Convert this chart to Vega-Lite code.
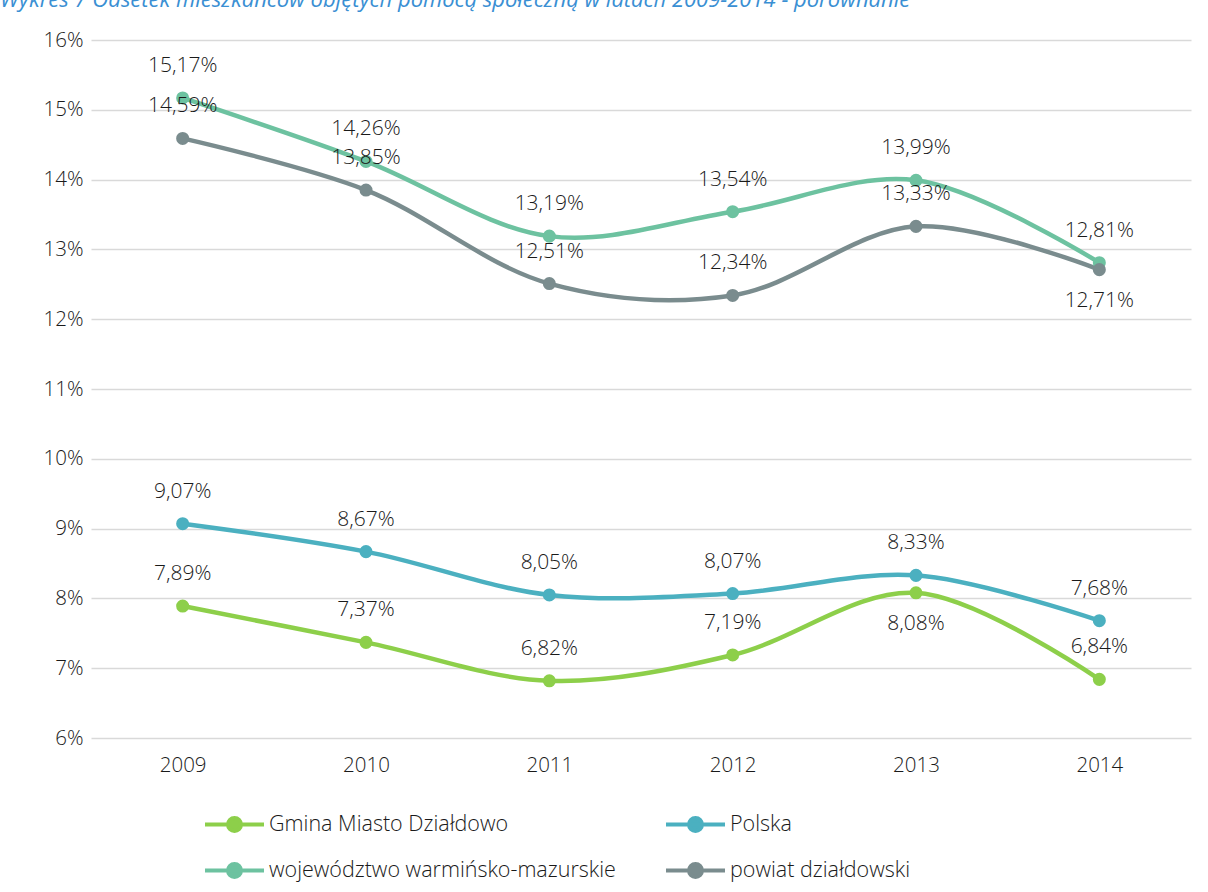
{
  "$schema": "https://vega.github.io/schema/vega-lite/v6.json",
  "width": 1100,
  "height": 698,
  "autosize": {"type": "none"},
  "padding": {"left": 91, "top": 40, "right": 17, "bottom": 154},
  "background": "white",
  "config": {
    "locale": {"number": {"decimal": ",", "thousands": " ", "grouping": [3], "currency": ["", " zł"]}},
    "view": {"stroke": null},
    "font": "Open Sans"
  },
  "title": {
    "text": "Wykres 7 Odsetek mieszkańców objętych pomocą społeczną w latach 2009-2014 - porównanie",
    "anchor": "start",
    "frame": "group",
    "baseline": "alphabetic",
    "offset": 1,
    "dx": -91,
    "fontSize": 22,
    "fontStyle": "italic",
    "fontWeight": "normal",
    "color": "#3A8FD3"
  },
  "data": {
    "values": [
      {"series": "Gmina Miasto Działdowo", "year": "2009", "value": 0.0789},
      {"series": "Gmina Miasto Działdowo", "year": "2010", "value": 0.0737},
      {"series": "Gmina Miasto Działdowo", "year": "2011", "value": 0.0682},
      {"series": "Gmina Miasto Działdowo", "year": "2012", "value": 0.0719},
      {"series": "Gmina Miasto Działdowo", "year": "2013", "value": 0.0808},
      {"series": "Gmina Miasto Działdowo", "year": "2014", "value": 0.0684},
      {"series": "Polska", "year": "2009", "value": 0.0907},
      {"series": "Polska", "year": "2010", "value": 0.0867},
      {"series": "Polska", "year": "2011", "value": 0.0805},
      {"series": "Polska", "year": "2012", "value": 0.0807},
      {"series": "Polska", "year": "2013", "value": 0.0833},
      {"series": "Polska", "year": "2014", "value": 0.0768},
      {"series": "województwo warmińsko-mazurskie", "year": "2009", "value": 0.1517},
      {"series": "województwo warmińsko-mazurskie", "year": "2010", "value": 0.1426},
      {"series": "województwo warmińsko-mazurskie", "year": "2011", "value": 0.1319},
      {"series": "województwo warmińsko-mazurskie", "year": "2012", "value": 0.1354},
      {"series": "województwo warmińsko-mazurskie", "year": "2013", "value": 0.1399},
      {"series": "województwo warmińsko-mazurskie", "year": "2014", "value": 0.1281},
      {"series": "powiat działdowski", "year": "2009", "value": 0.1459},
      {"series": "powiat działdowski", "year": "2010", "value": 0.1385},
      {"series": "powiat działdowski", "year": "2011", "value": 0.1251},
      {"series": "powiat działdowski", "year": "2012", "value": 0.1234},
      {"series": "powiat działdowski", "year": "2013", "value": 0.1333},
      {"series": "powiat działdowski", "year": "2014", "value": 0.1271}
    ]
  },
  "encoding": {
    "x": {
      "field": "year", "type": "ordinal",
      "scale": {"type": "point", "padding": 0.5},
      "axis": {"title": null, "labelAngle": 0, "labelFontSize": 20.5, "labelFontWeight": 300, "labelColor": "#1A1A1A", "labelPadding": 17, "ticks": false, "domain": false, "grid": false, "labelFont": "Open Sans"}
    },
    "y": {
      "field": "value", "type": "quantitative",
      "scale": {"domain": [0.06, 0.16], "nice": false, "zero": false},
      "axis": {"title": null, "format": ".0%", "values": [0.06, 0.07, 0.08, 0.09, 0.10, 0.11, 0.12, 0.13, 0.14, 0.15, 0.16], "labelFontSize": 20.5, "labelFontWeight": 300, "labelColor": "#1A1A1A", "labelPadding": 8, "ticks": false, "domain": false, "grid": true, "gridColor": "#D9D9D9", "gridWidth": 1.3, "labelFont": "Open Sans"}
    },
    "color": {
      "field": "series", "type": "nominal",
      "sort": ["Gmina Miasto Działdowo", "Polska", "województwo warmińsko-mazurskie", "powiat działdowski"],
      "scale": {
        "domain": ["Gmina Miasto Działdowo", "Polska", "województwo warmińsko-mazurskie", "powiat działdowski"],
        "range": ["#8DCF4A", "#4BB0C0", "#6DC2A0", "#7A8C8E"]
      },
      "legend": null
    }
  },
  "layer": [
    {
      "mark": {"type": "line", "interpolate": "catmull-rom", "strokeWidth": 4.5},
      "encoding": {
        "color": {
          "field": "series", "type": "nominal",
          "sort": ["Gmina Miasto Działdowo", "Polska", "województwo warmińsko-mazurskie", "powiat działdowski"],
          "legend": {
            "title": null,
            "orient": "none",
            "legendX": 112,
            "legendY": 753,
            "direction": "horizontal",
            "columns": 2,
            "columnPadding": 42,
            "rowPadding": -19,
            "labelFontSize": 21.5,
            "labelFontWeight": 300,
            "labelColor": "#1A1A1A",
            "labelFont": "Open Sans",
            "labelOffset": 3,
            "symbolType": "M-1,0L1,0M-0.22,0A0.22,0.22 0 1,0 0.22,0A0.22,0.22 0 1,0 -0.22,0",
            "symbolSize": 3481,
            "symbolStrokeWidth": 4,
            "labelLimit": 600,
            "encode": {"symbols": {"update": {"fill": {"scale": "color", "field": "value"}, "fillOpacity": {"value": 1}}}}
          }
        },
        "order": {"field": "year"}
      }
    },
    {
      "mark": {"type": "point", "filled": true, "size": 170, "opacity": 1},
      "encoding": {}
    },
    {
      "transform": [{"filter": "!((datum.series == 'Gmina Miasto Działdowo' && datum.year == '2013') || (datum.series == 'powiat działdowski' && datum.year == '2014'))"}],
      "mark": {"type": "text", "dy": -32, "fontSize": 21, "fontWeight": 300, "color": "#1A1A1A", "baseline": "middle", "font": "Open Sans"},
      "encoding": {
        "text": {"field": "value", "type": "quantitative", "format": ".2%"},
        "color": {"value": "#1A1A1A"}
      }
    },
    {
      "transform": [{"filter": "(datum.series == 'Gmina Miasto Działdowo' && datum.year == '2013') || (datum.series == 'powiat działdowski' && datum.year == '2014')"}],
      "mark": {"type": "text", "dy": 31, "fontSize": 21, "fontWeight": 300, "color": "#1A1A1A", "baseline": "middle", "font": "Open Sans"},
      "encoding": {
        "text": {"field": "value", "type": "quantitative", "format": ".2%"},
        "color": {"value": "#1A1A1A"}
      }
    }
  ]
}
